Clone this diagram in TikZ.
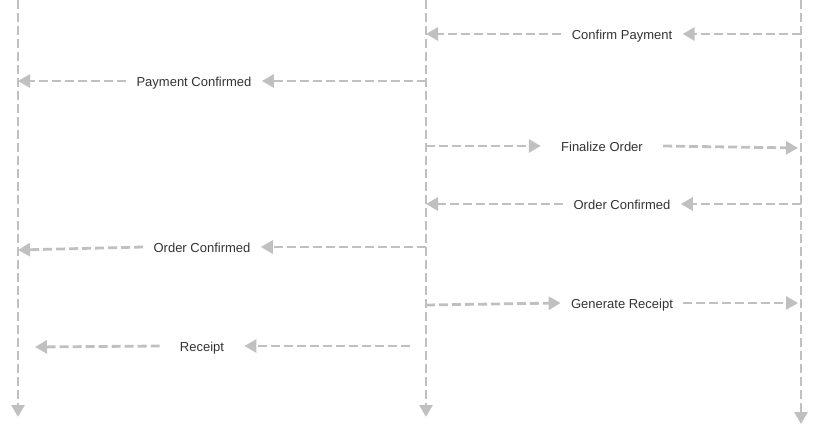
\documentclass[tikz,border=0pt]{standalone}
\usepackage{fontspec}
\setmainfont{Liberation Sans}
\usetikzlibrary{arrows.meta}
\definecolor{linegray}{HTML}{C0C0C0}
\definecolor{textgray}{HTML}{333333}
\begin{document}
\begin{tikzpicture}[x=1pt, y=-1pt, line width=2.8pt,
  msg/.style={draw=linegray, dash pattern=on 9pt off 4pt, -{Triangle[length=12pt, width=13pt]}},
  lbl/.style={font=\fontsize{13}{15}\selectfont, text=textgray, inner xsep=9pt, inner ysep=0pt, text height=10pt, text depth=0pt}]
  \useasboundingbox (0,0) rectangle (835,437);
  % lifelines
  \coordinate (a top) at (18,0);
  \coordinate (a bot) at (18,417);
  \coordinate (b top) at (426,0);
  \coordinate (b bot) at (426,417);
  \coordinate (c top) at (801,0);
  \coordinate (c bot) at (801,424);
  \draw[msg] (a top) -- (a bot);
  \draw[msg] (b top) -- (b bot);
  \draw[msg] (c top) -- (c bot);
  % labels
  \node[lbl] (m1) at (622,34) {Confirm Payment};
  \node[lbl] (m2) at (194,81) {Payment Confirmed};
  \node[lbl, inner xsep=19pt] (m3) at (602,146) {Finalize Order};
  \node[lbl] (m4) at (622,204) {Order Confirmed};
  \node[lbl] (m5) at (202,247) {Order Confirmed};
  \node[lbl] (m6) at (622,303) {Generate Receipt};
  \node[lbl, inner xsep=19pt] (m7) at (202,346) {Receipt};
  % free ends
  \coordinate (e3) at (798,148);
  \coordinate (e5) at (18,250);
  \coordinate (s6) at (426,305);
  \coordinate (e6) at (798,303);
  \coordinate (s7) at (410,346);
  \coordinate (e7) at (35,347);
  % messages
  \draw[msg] (c top |- m1) -- (m1);
  \draw[msg] (m1) -- (b top |- m1);
  \draw[msg] (b top |- m2) -- (m2);
  \draw[msg] (m2) -- (a top |- m2);
  \draw[msg] (b top |- m3) -- (m3);
  \draw[msg] (m3.east) -- (e3);
  \draw[msg] (c top |- m4) -- (m4);
  \draw[msg] (m4) -- (b top |- m4);
  \draw[msg] (b top |- m5) -- (m5);
  \draw[msg] (m5.west) -- (e5);
  \draw[msg] (s6) -- (m6.west);
  \draw[msg] (m6) -- (e6);
  \draw[msg] (s7) -- (m7);
  \draw[msg] (m7.west) -- (e7);
\end{tikzpicture}
\end{document}
